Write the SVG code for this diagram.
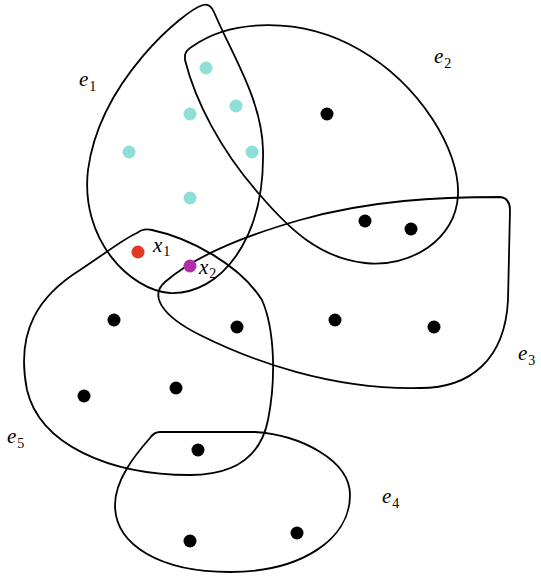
<svg xmlns="http://www.w3.org/2000/svg" width="541" height="576" viewBox="0 0 541 576">
<style>
.edge{fill:none;stroke:#000;stroke-width:1.8;stroke-linejoin:round}
.c{fill:#8edfd6}
.b{fill:#000}
.lbl{font-family:"Liberation Serif",serif;font-style:italic;font-size:21px;fill:#000}
.sub{font-family:"Liberation Serif",serif;font-style:normal;font-size:14px;fill:#000}
</style>
<rect width="541" height="576" fill="#fff"/>
<g id="edges">
<g id="e1"><path class="edge" d="M 203,5 C 185,10 100,80 88,170 C 80,240 130,290 170,293 C 220,295 265,240 263,150 C 262,100 232,55 214,12 Q 210,3 203,5 Z"/></g>
<g id="e2"><path class="edge" d="M 185,55 Q 186,50 193,46 C 230,20 300,15 360,50 C 420,85 460,150 458,195 C 456,240 410,268 365,263 C 320,258 290,230 260,195 C 220,150 195,100 185,60 Z"/></g>
<g id="e3"><path class="edge" d="M 500,197 Q 510,198 510,210 L 508,300 C 505,360 470,388 420,388 C 330,390 250,360 200,335 C 160,315 150,295 165,282 C 190,260 230,240 300,220 C 370,200 440,197 500,197 Z"/></g>
<g id="e5"><path class="edge" d="M 137,233 Q 143,228 152,230 C 190,238 240,265 262,300 C 275,330 276,380 268,420 C 260,460 230,475 190,475 C 110,475 40,445 27,390 C 15,330 40,295 80,270 C 110,250 125,238 137,233 Z"/></g>
<g id="e4"><path class="edge" d="M 160,432 L 255,432 C 300,435 350,460 350,495 C 350,540 300,572 230,572 C 160,572 115,545 115,505 C 115,480 135,455 150,438 Q 154,432 160,432 Z"/></g>
</g>
<g id="vertices">
<circle class="c" cx="206" cy="68" r="6.5"/>
<circle class="c" cx="190" cy="114" r="6.5"/>
<circle class="c" cx="236" cy="106" r="6.5"/>
<circle class="c" cx="129" cy="152" r="6.5"/>
<circle class="c" cx="252" cy="152" r="6.5"/>
<circle class="c" cx="190" cy="198" r="6.5"/>
<circle class="b" cx="327" cy="114" r="6.5"/>
<circle class="b" cx="365" cy="221" r="6.5"/>
<circle class="b" cx="411" cy="229" r="6.5"/>
<circle class="b" cx="114" cy="320" r="6.5"/>
<circle class="b" cx="237" cy="327" r="6.5"/>
<circle class="b" cx="335" cy="320" r="6.5"/>
<circle class="b" cx="434" cy="327" r="6.5"/>
<circle class="b" cx="84" cy="396" r="6.5"/>
<circle class="b" cx="176" cy="388" r="6.5"/>
<circle class="b" cx="198" cy="450" r="6.5"/>
<circle class="b" cx="190" cy="541" r="6.5"/>
<circle class="b" cx="297" cy="533" r="6.5"/>
<circle cx="138" cy="252" r="6.5" fill="#e03a24"/>
<circle cx="190" cy="266" r="6.5" fill="#b02eaa"/>
</g>
<g id="labels">
<text class="lbl" x="79" y="86">e<tspan class="sub" dx="1" dy="5">1</tspan></text>
<text class="lbl" x="434" y="63">e<tspan class="sub" dx="1" dy="5">2</tspan></text>
<text class="lbl" x="518" y="360">e<tspan class="sub" dx="1" dy="5">3</tspan></text>
<text class="lbl" x="382" y="503">e<tspan class="sub" dx="1" dy="5">4</tspan></text>
<text class="lbl" x="7" y="443">e<tspan class="sub" dx="1" dy="5">5</tspan></text>
<text class="lbl" x="153" y="252">x<tspan class="sub" dx="1" dy="4">1</tspan></text>
<text class="lbl" x="199" y="274">x<tspan class="sub" dx="1" dy="4">2</tspan></text>
</g>
</svg>
